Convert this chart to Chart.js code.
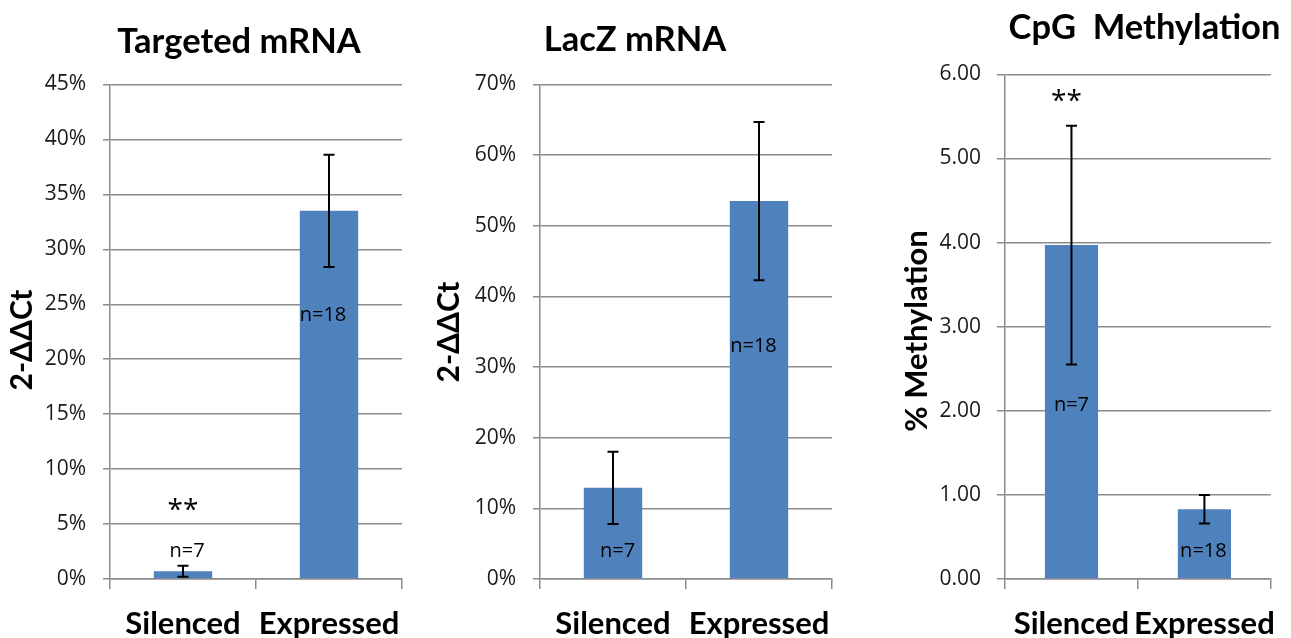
<!DOCTYPE html>
<html><head><meta charset="utf-8">
<script src="https://cdn.jsdelivr.net/npm/chart.js@4.4.0/dist/chart.umd.min.js"></script>
<style>
html,body{margin:0;padding:0;background:#fff;overflow:hidden;width:1291px;height:638px}
.p{position:absolute;top:0;height:638px}
canvas{display:block}
</style></head><body>
<div class="p" style="left:0;width:430px"><canvas id="c1" width="430" height="638"></canvas></div>
<div class="p" style="left:430px;width:430px"><canvas id="c2" width="430" height="638"></canvas></div>
<div class="p" style="left:860px;width:431px"><canvas id="c3" width="431" height="638"></canvas></div>
<script>
// ---- data ----
const categories = ['Silenced', 'Expressed'];
const targetedValues = [0.7, 33.5];
const targetedErrors = [0.5, 5.1];
const targetedTickLabels = ['0%','5%','10%','15%','20%','25%','30%','35%','40%','45%'];
const lacZValues = [12.9, 53.5];
const lacZErrors = [5.1, 11.2];
const lacZTickLabels = ['0%','10%','20%','30%','40%','50%','60%','70%'];
const cpgValues = [3.97, 0.83];
const cpgErrors = [1.42, 0.17];
const cpgTickLabels = ['0.00','1.00','2.00','3.00','4.00','5.00','6.00'];
const targetedN = ['n=7', 'n=18'];
const lacZN = ['n=7', 'n=18'];
const cpgN = ['n=7', 'n=18'];

const BAR = '#4F81BD';
const GRID = '#8c8c8c';
const BOLD = 'bold 34.5px Lato, "Open Sans", sans-serif';
const YTITLE = 'bold 30px Lato, "Open Sans", sans-serif';
const TICKFONT = {family: '"Open Sans", sans-serif', size: 21};
const NFONT = '20px "Open Sans", sans-serif';
const STARFONT = '28px "Open Sans", sans-serif';

const overlay = {
  id: 'overlay',
  afterDatasetsDraw(chart, args, o) {
    const ctx = chart.ctx, ys = chart.scales.y, meta = chart.getDatasetMeta(0);
    const data = chart.data.datasets[0].data;
    ctx.save();
    ctx.strokeStyle = '#000'; ctx.lineWidth = 2;
    o.errors.forEach((e, i) => {
      const x = meta.data[i].x, v = data[i];
      const yt = ys.getPixelForValue(v + e), yb = ys.getPixelForValue(Math.max(v - e, 0));
      ctx.beginPath();
      ctx.moveTo(x, yt); ctx.lineTo(x, yb);
      ctx.moveTo(x - 5.5, yt); ctx.lineTo(x + 5.5, yt);
      ctx.moveTo(x - 5.5, yb); ctx.lineTo(x + 5.5, yb);
      ctx.stroke();
    });
    ctx.fillStyle = '#000';
    ctx.textAlign = 'center';
    ctx.textBaseline = 'alphabetic';
    o.notes.forEach(n => {
      ctx.font = n.font;
      ctx.fillText(n.text, meta.data[n.index].x + n.dx, ys.getPixelForValue(n.y));
    });
    ctx.font = o.titleFont;
    ctx.fillText(o.title, o.titleX, o.titleY);
    ctx.translate(o.yTitleX, o.yTitleY);
    ctx.rotate(-Math.PI / 2);
    ctx.textBaseline = 'middle';
    ctx.font = o.yTitleFont;
    ctx.fillText(o.yTitle, 0, 0);
    ctx.restore();
  }
};

function panel(id, values, tickLabels, maxV, step, axisW, padRight, padTop, tickLen, ov) {
  return new Chart(document.getElementById(id), {
    type: 'bar',
    data: {
      labels: categories,
      datasets: [{ data: values, backgroundColor: BAR, borderWidth: 0,
        categoryPercentage: 1.0, barPercentage: 0.4 }]
    },
    options: {
      responsive: false, animation: false, devicePixelRatio: 1,
      layout: { padding: { left: 0, right: padRight, top: padTop, bottom: 0 } },
      plugins: { legend: { display: false }, tooltip: { enabled: false }, title: { display: false }, overlay: ov },
      scales: {
        x: {
          grid: { display: true, offset: true, drawOnChartArea: false, drawTicks: true, tickLength: 10, color: GRID, lineWidth: 1.5 },
          border: { display: true, color: GRID, width: 1.5 },
          ticks: { color: '#000', font: { family: 'Lato, "Open Sans", sans-serif', size: 31, weight: 'bold' }, padding: 16, maxRotation: 0, autoSkip: false },
          afterFit(s) { s.height = 59; }
        },
        y: {
          min: 0, max: maxV,
          ticks: { stepSize: step, autoSkip: false, color: '#1a1a1a', font: TICKFONT, padding: 24 - tickLen,
            callback: (v, i) => tickLabels[i] },
          grid: { color: GRID, lineWidth: 1.5, tickLength: tickLen, drawTicks: true },
          border: { display: true, color: GRID, width: 1.5 },
          afterFit(s) { s.width = axisW; }
        }
      }
    },
    plugins: [overlay]
  });
}

panel('c1', targetedValues, targetedTickLabels, 45, 5, 110, 28, 84.5, 7, {
  errors: targetedErrors,
  notes: [
    { text: '**', index: 0, dx: 0, y: 5.5, font: STARFONT },
    { text: targetedN[0], index: 0, dx: 4, y: 2.0, font: NFONT },
    { text: targetedN[1], index: 1, dx: -6, y: 23.5, font: NFONT }
  ],
  title: 'Targeted mRNA', titleFont: BOLD, titleX: 239, titleY: 53,
  yTitle: '2-ΔΔCt', yTitleFont: YTITLE, yTitleX: 22, yTitleY: 340
});

panel('c2', lacZValues, lacZTickLabels, 70, 10, 110, 28, 84.5, 7, {
  errors: lacZErrors,
  notes: [
    { text: lacZN[0], index: 0, dx: 4.5, y: 3.1, font: NFONT },
    { text: lacZN[1], index: 1, dx: -5.5, y: 32.2, font: NFONT }
  ],
  title: 'LacZ mRNA', titleFont: BOLD, titleX: 205, titleY: 51,
  yTitle: '2-ΔΔCt', yTitleFont: YTITLE, yTitleX: 19, yTitleY: 332
});

panel('c3', cpgValues, cpgTickLabels, 6, 1, 145, 1, 74.4, 8, {
  errors: cpgErrors,
  notes: [
    { text: '**', index: 0, dx: -5, y: 5.58, font: STARFONT },
    { text: cpgN[0], index: 0, dx: 0, y: 2.0, font: NFONT },
    { text: cpgN[1], index: 1, dx: -1, y: 0.26, font: NFONT }
  ],
  title: 'CpG  Methylation', titleFont: BOLD, titleX: 284.5, titleY: 39,
  yTitle: '% Methylation', yTitleFont: 'bold 31px Lato, "Open Sans", sans-serif', yTitleX: 57, yTitleY: 331
});
</script>
</body></html>
